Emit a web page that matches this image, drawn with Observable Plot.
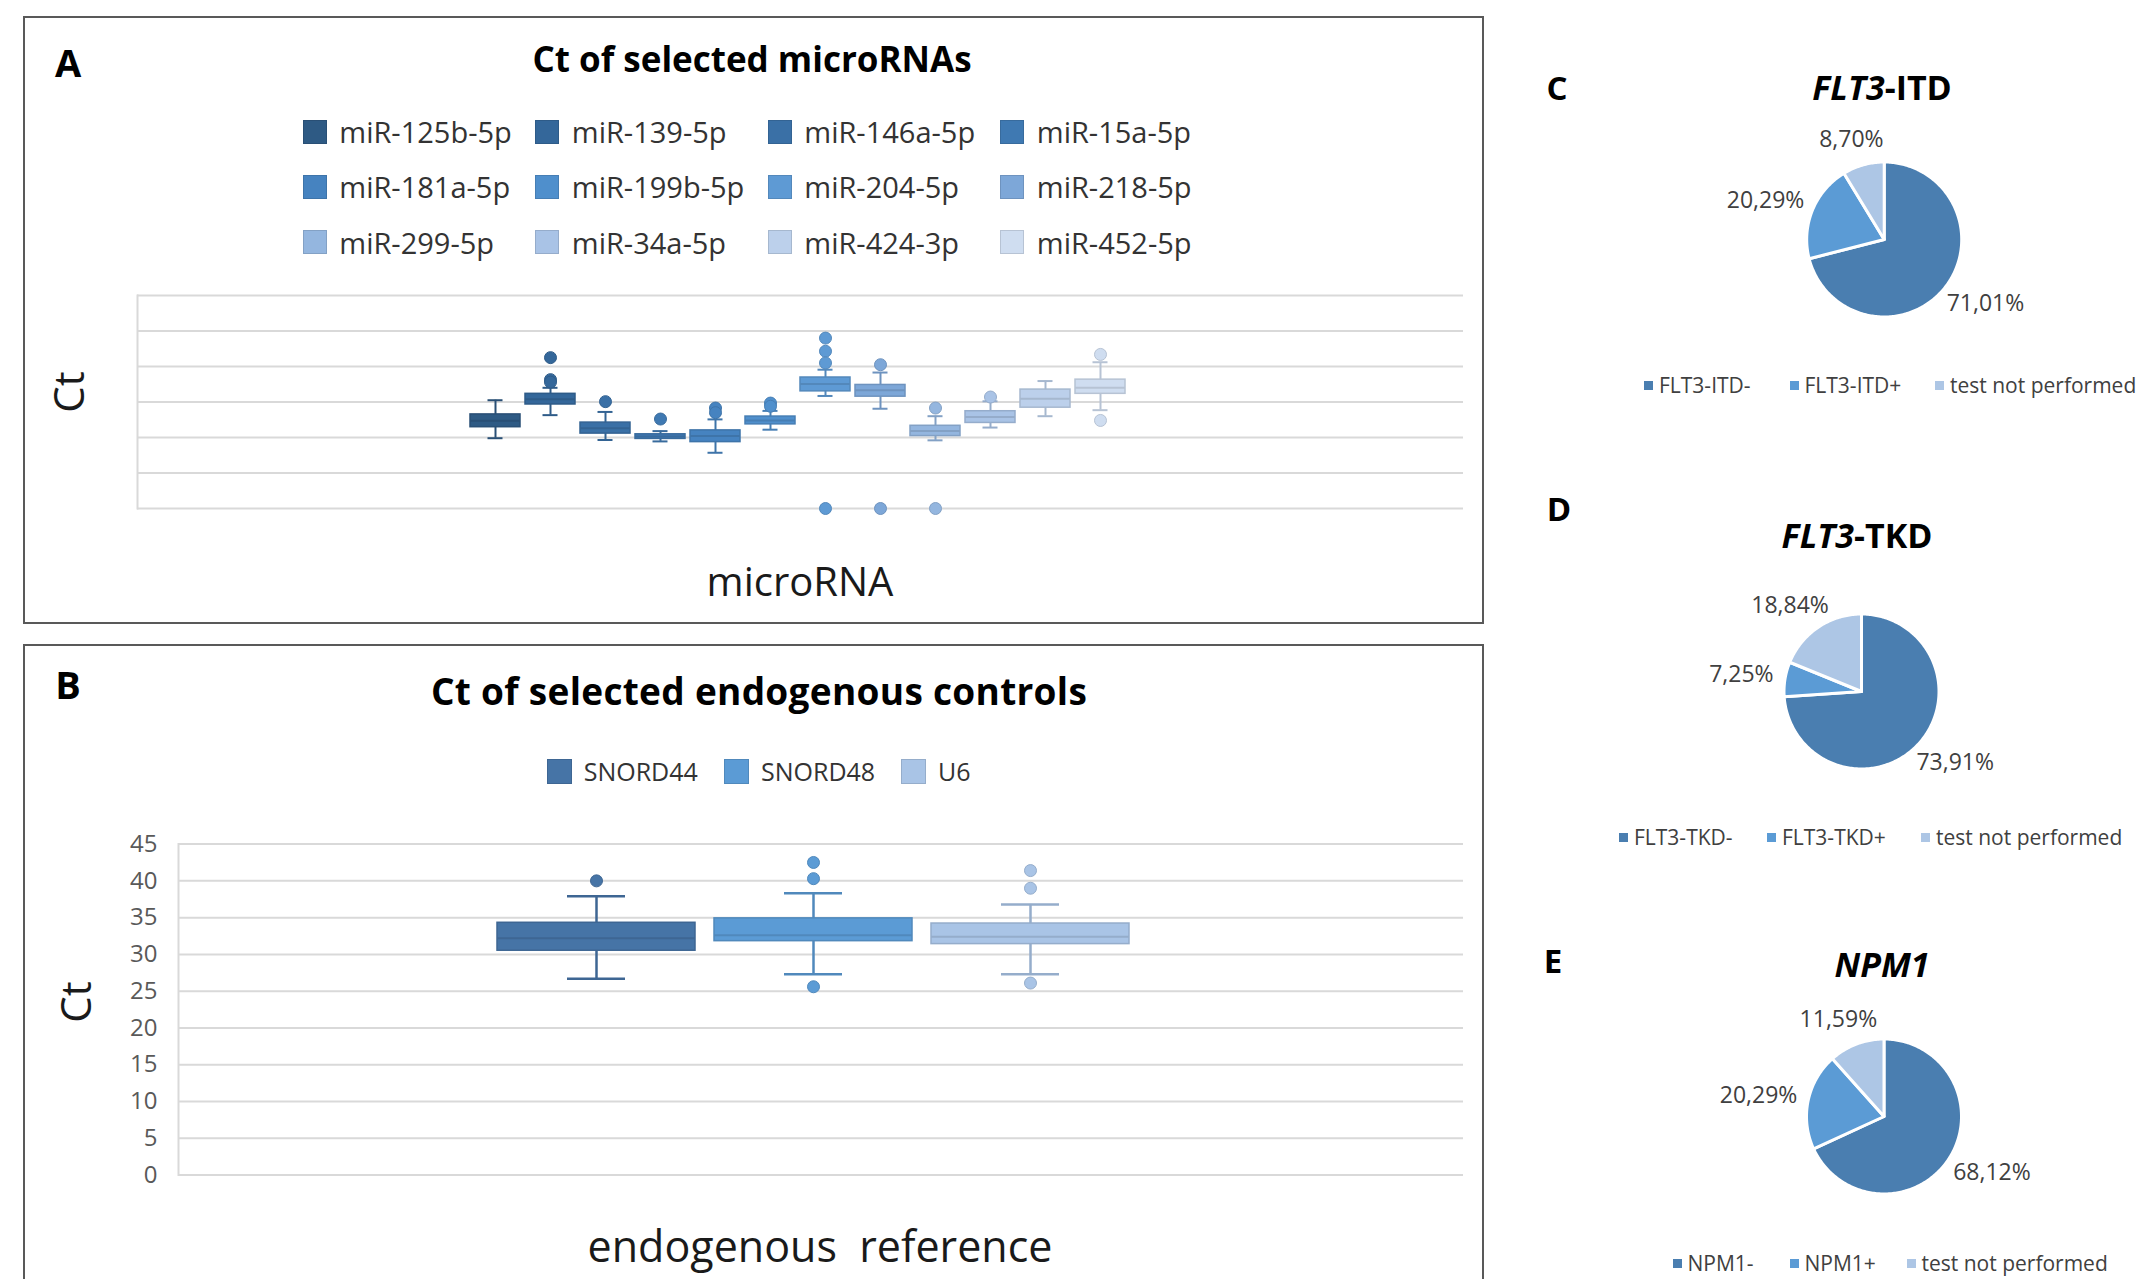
<!DOCTYPE html>
<html><head><meta charset="utf-8">
<script src="https://cdn.jsdelivr.net/npm/d3@7"></script>
<script src="https://cdn.jsdelivr.net/npm/@observablehq/plot@0.6"></script>
<style>
html,body{margin:0;padding:0;background:#fff;overflow:hidden;}
#root{position:relative;width:2144px;height:1279px;font-family:"Open Sans",sans-serif;color:#262626;overflow:hidden;}
.abs{position:absolute;white-space:nowrap;line-height:1;}
.ctr{transform:translate(-50%,-50%);}
.panel{position:absolute;border:2px solid #595959;box-sizing:border-box;}
.sw{display:inline-block;box-sizing:border-box;}
.item{display:flex;align-items:center;}
</style></head><body><div id="root"></div>
<script>
// ---------- Panel A data ----------
const mirNames = ["miR-125b-5p","miR-139-5p","miR-146a-5p","miR-15a-5p","miR-181a-5p","miR-199b-5p","miR-204-5p","miR-218-5p","miR-299-5p","miR-34a-5p","miR-424-3p","miR-452-5p"];
const mirColors = ["#2E5A84","#34679A","#3A70A6","#3F79B2","#4683C0","#4F8FCC","#5E9AD4","#7DA7D8","#94B6DF","#A9C3E6","#BCD0EB","#CFDDF0"];
const mirLow    = [19.8,26.3,19.3,18.9,15.7,22.2,31.7,28.1,19.2,22.8,26.0,27.7];
const mirQ1     = [22.9,29.3,21.1,19.6,18.7,23.7,33.0,31.5,20.4,24.1,28.4,32.3];
const mirMedian = [24.7,30.8,22.6,20.3,20.4,24.8,35.1,33.3,21.8,25.8,30.9,34.0];
const mirQ3     = [26.5,32.3,24.2,20.9,22.0,25.9,36.9,34.8,23.3,27.4,33.5,36.3];
const mirHigh   = [30.5,34.0,27.2,21.8,25.1,27.5,39.1,38.3,26.0,30.2,35.9,41.2];
const mirOutliers = [[],[42.5,36.3,35.6],[30.1],[25.2],[28.3,27.0],[29.7,28.8],[48.0,44.3,41.0,0],[40.5,0],[28.3,0],[31.4],[],[43.4,24.8]];
const mirGrid = [0,10,20,30,40,50,60];

// ---------- Panel B data ----------
const refNames = ["SNORD44","SNORD48","U6"];
const refColors = ["#4674A6","#5B9BD5","#A9C4E6"];
const refLow    = [26.7,27.3,27.3];
const refQ1     = [30.5,31.8,31.4];
const refMedian = [32.2,32.6,32.4];
const refQ3     = [34.3,34.9,34.2];
const refHigh   = [37.9,38.3,36.8];
const refOutliers = [[40.0],[42.5,40.3,25.6],[41.4,39.0,26.1]];
const refTicks = [0,5,10,15,20,25,30,35,40,45];

// ---------- Pie data ----------
const itdLabels = ["FLT3-ITD-","FLT3-ITD+","test not performed"];
const itdValues = [71.01,20.29,8.70];
const tkdLabels = ["FLT3-TKD-","FLT3-TKD+","test not performed"];
const tkdValues = [73.91,7.25,18.84];
const npmLabels = ["NPM1-","NPM1+","test not performed"];
const npmValues = [68.12,20.29,11.59];
const pieColors = ["#4A7EB0","#5B9BD5","#ADC6E5"];

const root = document.getElementById("root");
const darker = c => d3.color(c).darker(0.35).formatHex();

function place(node, left, top) {
  const d = document.createElement("div");
  d.className = "abs"; d.style.left = left + "px"; d.style.top = top + "px";
  d.appendChild(node); root.appendChild(d); return d;
}
function text(html, x, y, css = {}) {
  const d = document.createElement("div");
  d.className = "abs ctr"; d.innerHTML = html;
  d.style.left = x + "px"; d.style.top = y + "px";
  Object.assign(d.style, css);
  root.appendChild(d); return d;
}
function panel(l, t, w, h) {
  const d = document.createElement("div"); d.className = "panel";
  Object.assign(d.style, {left: l + "px", top: t + "px", width: w + "px", height: h + "px"});
  root.appendChild(d);
}

function boxChart(o) {
  const rows = o.names.map((n, i) => ({name: n, color: o.colors[i], low: o.low[i], q1: o.q1[i], med: o.med[i], q3: o.q3[i], high: o.high[i]}));
  const outs = o.names.flatMap((n, i) => o.outliers[i].map(v => ({name: n, color: o.colors[i], value: v})));
  return Plot.plot({
    width: o.width, height: o.height,
    marginTop: o.marginTop, marginBottom: o.marginBottom, marginLeft: o.marginLeft, marginRight: o.marginRight,
    style: {fontFamily: "Open Sans, sans-serif", background: "transparent", color: "#595959", maxWidth: "none", overflow: "visible"},
    x: {type: "band", domain: o.names, range: o.xRange, paddingInner: o.padInner, paddingOuter: 0, axis: null},
    y: {domain: o.yDomain, axis: null},
    marks: [
      Plot.ruleY(o.grid, {stroke: "#D9D9D9", strokeWidth: 2}),
      Plot.frame({anchor: "left", stroke: "#D9D9D9", strokeWidth: 2}),
      o.tickLabels ? Plot.axisY({ticks: o.grid, tickSize: 0, tickPadding: 21, fontSize: 24, label: null}) : null,
      Plot.ruleX(rows, {x: "name", y1: "low", y2: "high", stroke: d => darker(d.color), strokeWidth: o.sw}),
      Plot.tickY(rows, {x: "name", y: "low", stroke: d => darker(d.color), strokeWidth: o.sw, inset: o.capInset}),
      Plot.tickY(rows, {x: "name", y: "high", stroke: d => darker(d.color), strokeWidth: o.sw, inset: o.capInset}),
      Plot.barY(rows, {x: "name", y1: "q1", y2: "q3", fill: "color", stroke: d => darker(d.color), strokeWidth: 1.5}),
      Plot.tickY(rows, {x: "name", y: "med", stroke: d => darker(d.color), strokeWidth: 2}),
      Plot.dot(outs, {x: "name", y: "value", r: 6, fill: "color", stroke: d => darker(d.color), strokeWidth: 1})
    ]
  });
}

function pieChart(o) {
  const total = d3.sum(o.values);
  let acc = 0;
  const slices = o.values.map((v, i) => {
    const a0 = acc / total * 2 * Math.PI; acc += v;
    const a1 = acc / total * 2 * Math.PI;
    return {label: o.labels[i], value: v, color: o.colors[i], a0, a1};
  });
  const pts = slices.flatMap(s => {
    const n = Math.max(2, Math.ceil((s.a1 - s.a0) / (Math.PI / 180)));
    const arr = [{label: s.label, color: s.color, x: 0, y: 0}];
    for (let k = 0; k <= n; k++) {
      const a = s.a0 + (s.a1 - s.a0) * k / n;
      arr.push({label: s.label, color: s.color, x: o.R * Math.sin(a), y: o.R * Math.cos(a)});
    }
    arr.push({label: s.label, color: s.color, x: 0, y: 0});
    return arr;
  });
  const fs = o.fontSize;
  const labs = slices.map(s => {
    const t = s.value.toFixed(2).replace(".", ",") + "%";
    const m = (s.a0 + s.a1) / 2, sn = Math.sin(m), cs = Math.cos(m);
    const w = t.length * 0.56 * fs, h = fs * 1.25;
    const rr = o.R + 12;
    return {t, x: rr * sn + w / 2 * sn, y: rr * cs + h / 2 * cs};
  });
  return Plot.plot({
    width: o.W, height: o.H, margin: 0,
    style: {fontFamily: "Open Sans, sans-serif", background: "transparent", maxWidth: "none", overflow: "visible"},
    x: {type: "linear", domain: [-o.cx, o.W - o.cx], range: [0, o.W], axis: null},
    y: {type: "linear", domain: [-(o.H - o.cy), o.cy], range: [o.H, 0], axis: null},
    marks: [
      Plot.line(pts, {x: "x", y: "y", z: "label", fill: "color", stroke: "white", strokeWidth: 3, strokeLinejoin: "round", curve: "linear"}),
      Plot.text(labs, {x: "x", y: "y", text: "t", fontSize: fs, fill: "#404040", textAnchor: "middle", lineAnchor: "middle"})
    ]
  });
}

// ---------- borders ----------
panel(23, 16, 1461, 608);
panel(23, 644, 1461, 700);

// ---------- Panel A ----------
place(boxChart({
  names: mirNames, colors: mirColors, low: mirLow, q1: mirQ1, med: mirMedian, q3: mirQ3, high: mirHigh, outliers: mirOutliers,
  width: 1500, height: 640, marginTop: 295, marginBottom: 132, marginLeft: 137, marginRight: 37,
  xRange: [467, 1127], padInner: 0.1, yDomain: [0, 60], grid: mirGrid, tickLabels: false, sw: 2, capInset: 17.5
}), 0, 0);

// ---------- Panel B ----------
place(boxChart({
  names: refNames, colors: refColors, low: refLow, q1: refQ1, med: refMedian, q3: refQ3, high: refHigh, outliers: refOutliers,
  width: 1500, height: 639, marginTop: 203.6, marginBottom: 104.5, marginLeft: 178, marginRight: 37,
  xRange: [495.5, 1130.5], padInner: 0.087, yDomain: [0, 45], grid: refTicks, tickLabels: true, sw: 2.5, capInset: 70
}), 0, 640);

// ---------- Pies ----------
const pies = [
  {labels: itdLabels, values: itdValues, cxp: 1883.7, cyp: 238.7},
  {labels: tkdLabels, values: tkdValues, cxp: 1861, cyp: 691},
  {labels: npmLabels, values: npmValues, cxp: 1883.5, cyp: 1116}
];
pies.forEach(p => {
  const W = 614, H = 260, left = 1530, top = p.cyp - 130;
  place(pieChart({labels: p.labels, values: p.values, colors: pieColors, W, H, cx: p.cxp - left, cy: 130, R: 77.5, fontSize: 23}), left, top);
});

// ---------- Texts panel A ----------
text("A", 68, 62, {fontSize: "38px", fontWeight: "700", color: "#000"});
text("Ct of selected microRNAs", 752, 58, {fontSize: "35px", fontWeight: "700", color: "#000"});
text("Ct", 68, 392, {fontSize: "42px", color: "#1a1a1a", transform: "translate(-50%,-50%) rotate(-90deg)"});
text("microRNA", 800, 581, {fontSize: "40px", color: "#1a1a1a"});

// legend A
(function () {
  const g = document.createElement("div");
  g.className = "abs";
  Object.assign(g.style, {left: "302.7px", top: "104px", display: "grid", gridTemplateColumns: "repeat(4, 232.5px)", gridAutoRows: "55.3px"});
  mirNames.forEach((n, i) => {
    const it = document.createElement("div"); it.className = "item";
    const s = document.createElement("span"); s.className = "sw";
    Object.assign(s.style, {width: "24px", height: "24px", background: mirColors[i], border: "1px solid " + darker(mirColors[i]), marginRight: "12.6px"});
    const t = document.createElement("span"); t.textContent = n;
    Object.assign(t.style, {fontSize: "29px", color: "#333"});
    it.append(s, t); g.appendChild(it);
  });
  root.appendChild(g);
})();

// ---------- Texts panel B ----------
text("B", 68, 684, {fontSize: "38px", fontWeight: "700", color: "#000"});
text("Ct of selected endogenous controls", 759, 690, {fontSize: "37px", fontWeight: "700", color: "#000", letterSpacing: "0.3px"});
text("Ct", 75, 1002, {fontSize: "42px", color: "#1a1a1a", transform: "translate(-50%,-50%) rotate(-90deg)"});
text("endogenous&nbsp; reference", 820, 1245, {fontSize: "43px", color: "#1a1a1a"});
(function () {
  const g = document.createElement("div");
  g.className = "abs";
  Object.assign(g.style, {left: "546.7px", top: "752px", display: "grid", gridTemplateColumns: "177.3px 177px auto", gridAutoRows: "38px"});
  refNames.forEach((n, i) => {
    const it = document.createElement("div"); it.className = "item";
    const s = document.createElement("span"); s.className = "sw";
    Object.assign(s.style, {width: "25px", height: "25px", background: refColors[i], border: "1px solid " + darker(refColors[i]), marginRight: "12px"});
    const t = document.createElement("span"); t.textContent = n;
    Object.assign(t.style, {fontSize: "25px", color: "#333"});
    it.append(s, t); g.appendChild(it);
  });
  root.appendChild(g);
})();

// ---------- Texts pies ----------
text("C", 1557, 87, {fontSize: "33px", fontWeight: "700", color: "#000"});
text("<i>FLT3</i>-ITD", 1882, 87, {fontSize: "34px", fontWeight: "700", color: "#000"});
text("D", 1559, 508, {fontSize: "33px", fontWeight: "700", color: "#000"});
text("<i>FLT3</i>-TKD", 1857, 535, {fontSize: "34px", fontWeight: "700", color: "#000"});
text("E", 1553, 960, {fontSize: "33px", fontWeight: "700", color: "#000"});
text("<i>NPM1</i>", 1882, 964, {fontSize: "34px", fontWeight: "700", color: "#000"});

function pieLegend(labels, left, cy, cols) {
  const g = document.createElement("div");
  g.className = "abs";
  Object.assign(g.style, {left: left + "px", top: (cy - 14) + "px", display: "grid", gridTemplateColumns: cols, gridAutoRows: "28px"});
  labels.forEach((n, i) => {
    const it = document.createElement("div"); it.className = "item";
    const s = document.createElement("span"); s.className = "sw";
    Object.assign(s.style, {width: "9px", height: "9px", background: pieColors[i], marginRight: "6px"});
    const t = document.createElement("span"); t.textContent = n;
    Object.assign(t.style, {fontSize: "21px", color: "#404040"});
    it.append(s, t); g.appendChild(it);
  });
  root.appendChild(g);
}
pieLegend(itdLabels, 1644, 385, "145.5px 145.5px auto");
pieLegend(tkdLabels, 1619, 837, "148px 154px auto");
pieLegend(npmLabels, 1672.5, 1263, "117px 117px auto");
</script></body></html>
